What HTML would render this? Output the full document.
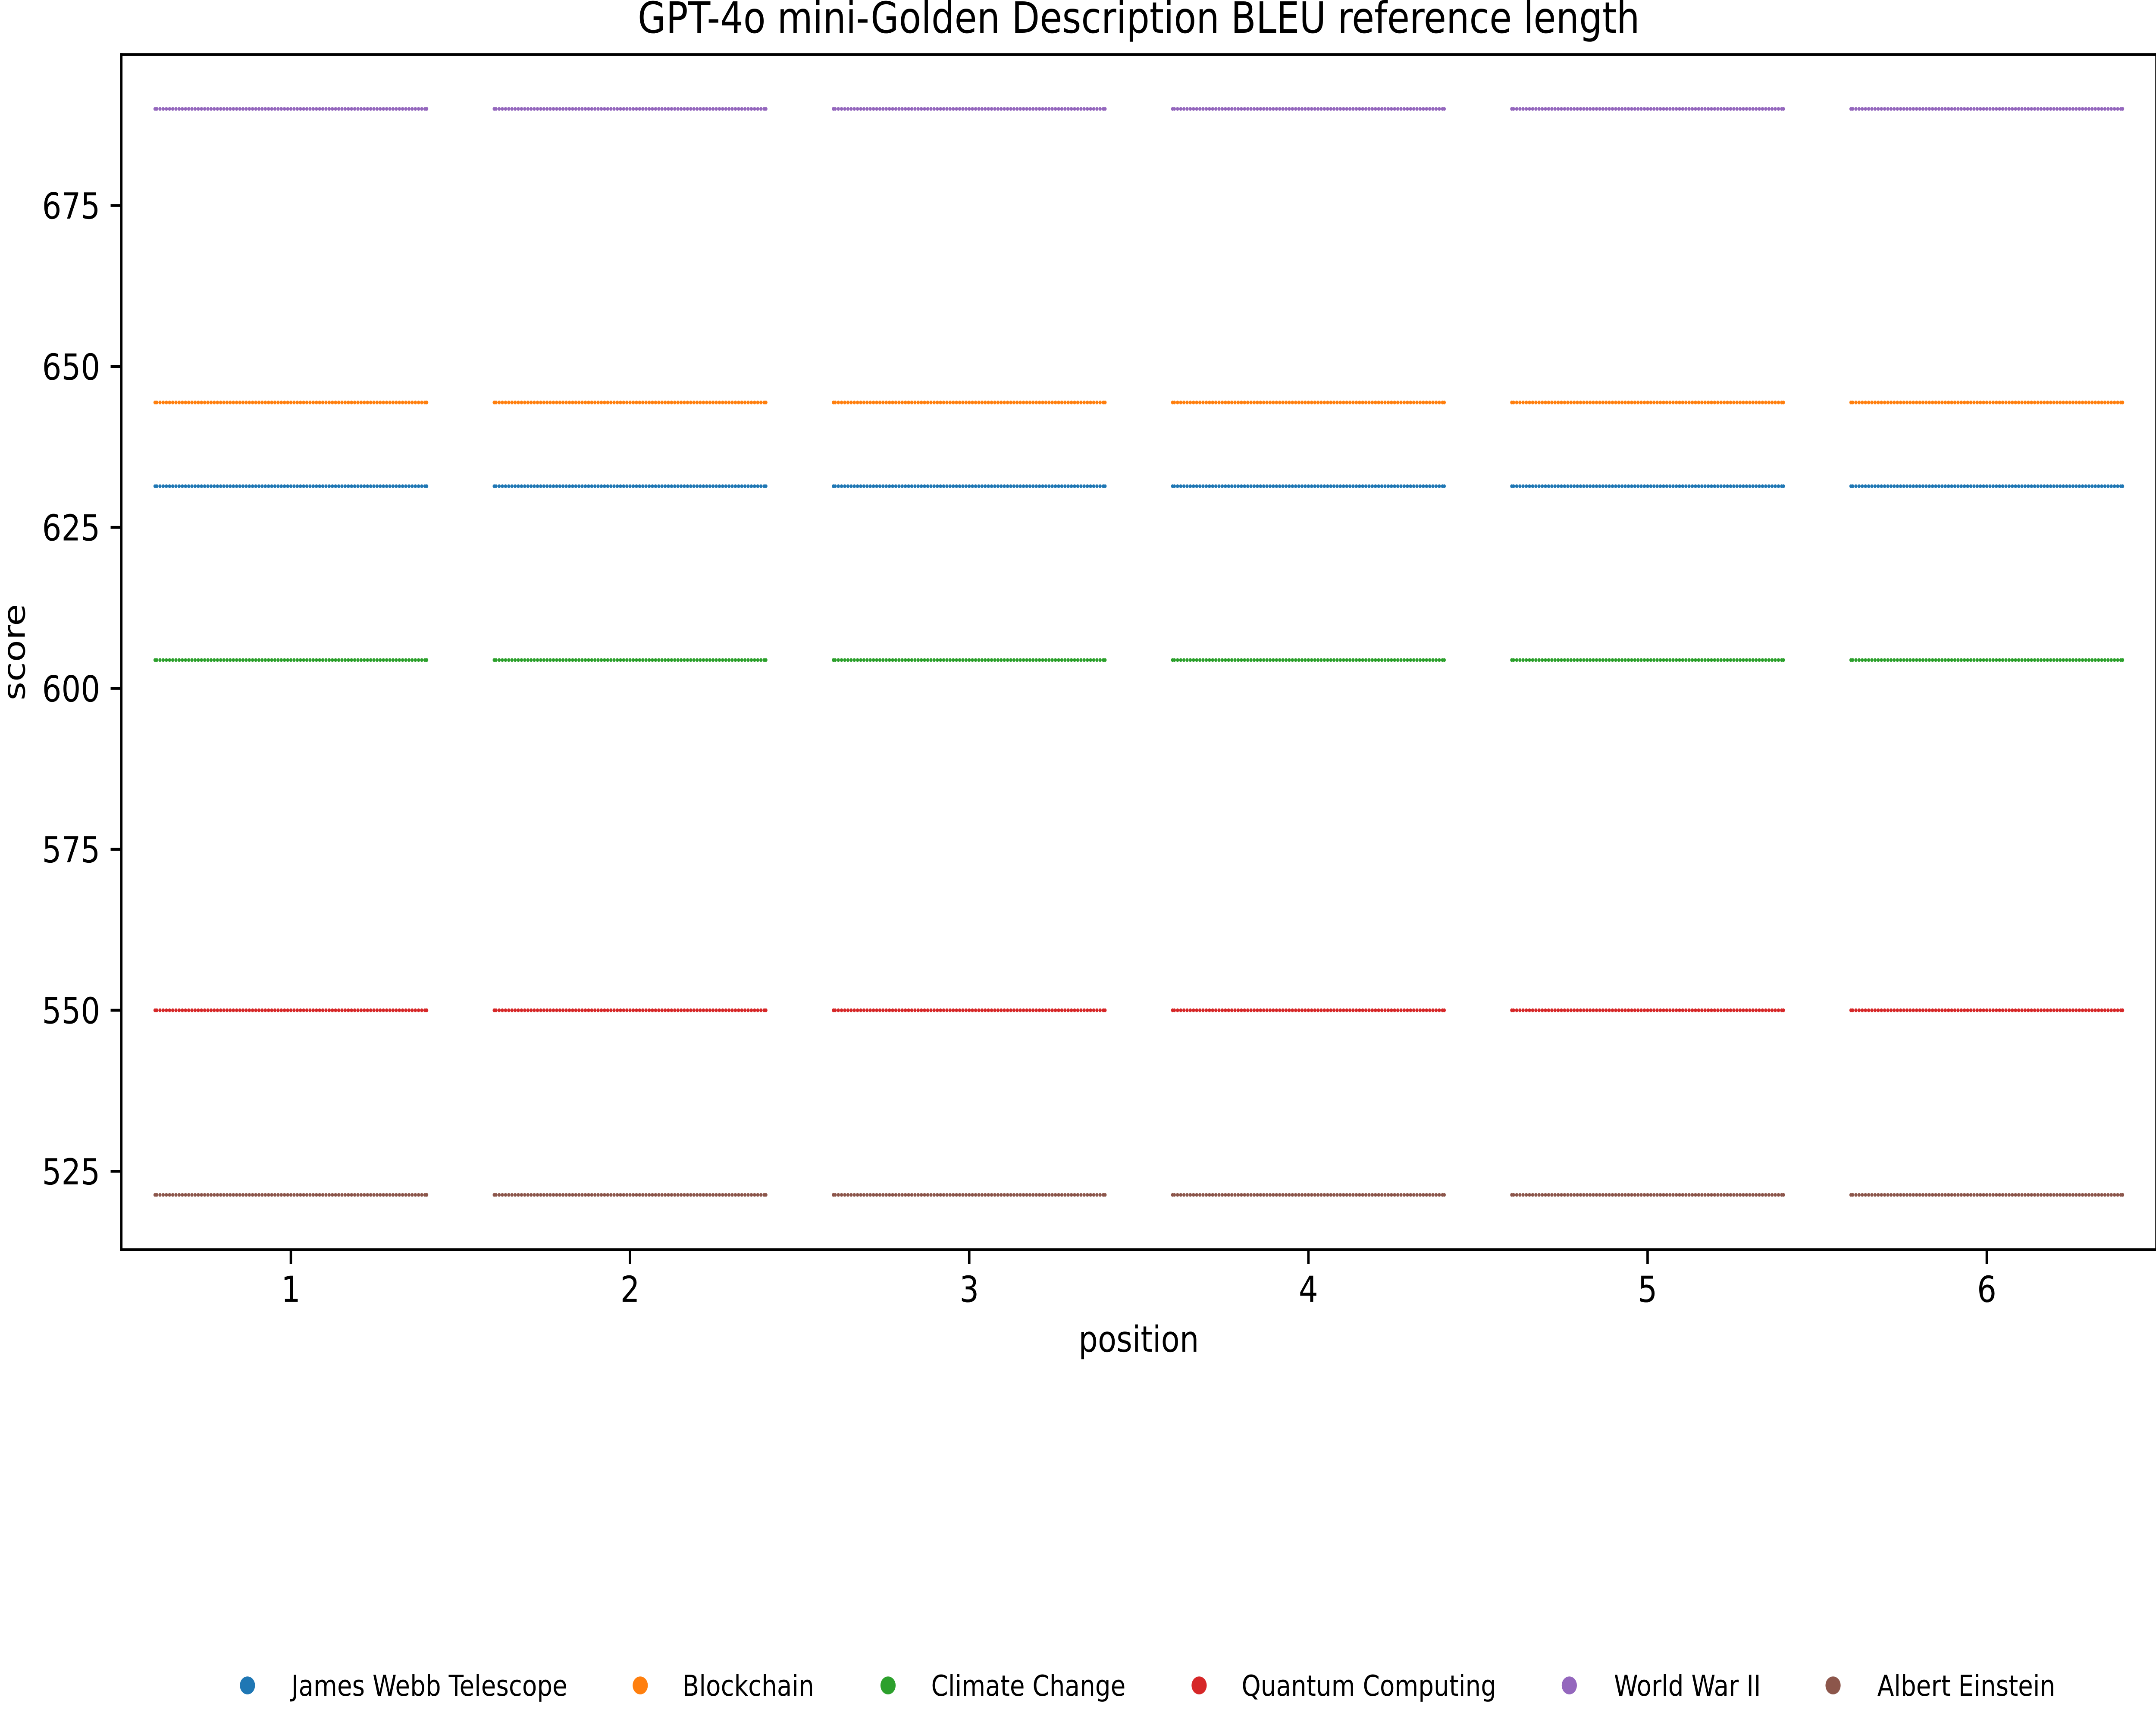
<!DOCTYPE html>
<html lang="en">
<head>
<meta charset="utf-8">
<title>GPT-4o mini-Golden Description BLEU reference length</title>
<style>
  html, body { margin: 0; padding: 0; width: 100%; height: 100%; background: #fff; overflow: hidden; }
  svg { display: block; width: 100%; height: 100%; font-family: "DejaVu Sans", "Liberation Sans", sans-serif; fill: #000; font-kerning: normal; text-rendering: geometricPrecision; }
  .s0 { fill: #1f77b4; }
  .s1 { fill: #ff7f0e; }
  .s2 { fill: #2ca02c; }
  .s3 { fill: #d62728; }
  .s4 { fill: #9467bd; }
  .s5 { fill: #8c564b; }
  .tick { stroke: #000; stroke-width: 6.67; }
  .tick-label { font-size: 83.33px; }
  .axis-title { font-size: 83.33px; text-anchor: middle; }
  .legend-label { font-size: 66.67px; }
</style>
</head>
<body>
<svg id="chart" xmlns="http://www.w3.org/2000/svg" viewBox="0 0 5911 3973" preserveAspectRatio="none">
  <rect x="0" y="0" width="5911" height="3973" fill="#ffffff"/>
  <text x="3122" y="76" font-size="100" text-anchor="middle">GPT-4o mini-Golden Description BLEU reference length</text>
  <g id="marks"></g>
  <g>
    <rect x="329.2" y="123.2" width="6.67" height="2778.6" fill="#000"/>
    <rect x="329.2" y="123.2" width="5581.8" height="6.67" fill="#000"/>
    <rect x="329.2" y="2895.2" width="5581.8" height="6.67" fill="#000"/>
    <rect x="5909" y="123.2" width="2" height="2778.6" fill="#000"/>
  </g>
  <g id="x-axis"></g>
  <g id="y-axis"></g>
  <text class="axis-title" x="3122" y="3135">position</text>
  <text class="axis-title" transform="translate(68 1512.5) rotate(-90)">score</text>
  <g>
    <g>
      <circle class="s0" cx="678.4" cy="3909" r="20.8"/>
      <text class="legend-label" x="799" y="3933">James Webb Telescope</text>
    </g>
    <g>
      <circle class="s1" cx="1755.3" cy="3909" r="20.8"/>
      <text class="legend-label" x="1871" y="3933">Blockchain</text>
    </g>
    <g>
      <circle class="s2" cx="2434.7" cy="3909" r="20.8"/>
      <text class="legend-label" x="2553" y="3933">Climate Change</text>
    </g>
    <g>
      <circle class="s3" cx="3287.6" cy="3909" r="20.8"/>
      <text class="legend-label" x="3404" y="3933">Quantum Computing</text>
    </g>
    <g>
      <circle class="s4" cx="4302.5" cy="3909" r="20.8"/>
      <text class="legend-label" x="4425" y="3933">World War II</text>
    </g>
    <g>
      <circle class="s5" cx="5025.6" cy="3909" r="20.8"/>
      <text class="legend-label" x="5147" y="3933">Albert Einstein</text>
    </g>
  </g>
</svg>
<script>
var positions = [1, 2, 3, 4, 5, 6];
var yTicks = [525, 550, 575, 600, 625, 650, 675];
var seriesNames = ["james-webb-telescope", "blockchain", "climate-change", "quantum-computing", "world-war-ii", "albert-einstein"];
var jamesWebbTelescope = [631.4, 631.4, 631.4, 631.4, 631.4, 631.4];
var blockchain = [644.4, 644.4, 644.4, 644.4, 644.4, 644.4];
var climateChange = [604.4, 604.4, 604.4, 604.4, 604.4, 604.4];
var quantumComputing = [550.0, 550.0, 550.0, 550.0, 550.0, 550.0];
var worldWarII = [690.0, 690.0, 690.0, 690.0, 690.0, 690.0];
var albertEinstein = [521.33, 521.33, 521.33, 521.33, 521.33, 521.33];
var observationsPerPosition = 87;

var allSeries = [jamesWebbTelescope, blockchain, climateChange, quantumComputing, worldWarII, albertEinstein];

var NS = "http://www.w3.org/2000/svg";
var plotLeft = 332.5, plotRight = 5912, plotTop = 126.5, plotBottom = 2898.5;
var xDomain = [0.5, 6.5], yDomain = [512.81, 698.44];
var dotRadius = 4.35, dotStep = 8.752, swarmHalfWidth = 372.4;

function xScale(v) {
  return plotLeft + (v - xDomain[0]) / (xDomain[1] - xDomain[0]) * (plotRight - plotLeft);
}
function yScale(v) {
  return plotBottom - (v - yDomain[0]) / (yDomain[1] - yDomain[0]) * (plotBottom - plotTop);
}
function make(tag, attrs, parent) {
  var el = document.createElementNS(NS, tag);
  for (var key in attrs) { el.setAttribute(key, attrs[key]); }
  parent.appendChild(el);
  return el;
}

var xAxis = document.getElementById("x-axis");
positions.forEach(function (p) {
  var x = xScale(p);
  var line = make("line", { "class": "tick", x1: x, x2: x, y1: plotBottom, y2: plotBottom + 32.5 }, xAxis);
  
  
  var label = make("text", { "class": "tick-label", x: x, y: 3019.5, "text-anchor": "middle" }, xAxis);
  
  
  label.textContent = String(p);
});

var yAxis = document.getElementById("y-axis");
yTicks.forEach(function (t) {
  var y = yScale(t);
  var line = make("line", { "class": "tick", x1: plotLeft - 29.2, x2: plotLeft, y1: y, y2: y }, yAxis);
  
  
  var label = make("text", { "class": "tick-label", x: 274.5, y: y + 30.4, "text-anchor": "end" }, yAxis);
  
  
  label.textContent = String(t);
});

var marks = document.getElementById("marks");
allSeries.forEach(function (values, s) {
  var group = make("g", { "class": "s" + s }, marks);
  
  
  values.forEach(function (value, i) {
    var cx = xScale(positions[i]);
    var cy = yScale(value);
    var half = (observationsPerPosition - 1) / 2;
    for (var k = -half; k <= half; k++) {
      var offset = Math.max(-swarmHalfWidth, Math.min(swarmHalfWidth, k * dotStep));
      var dot = make("circle", { cx: cx + offset, cy: cy, r: dotRadius }, group);
      
      
    }
  });
});
</script>
</body>
</html>
